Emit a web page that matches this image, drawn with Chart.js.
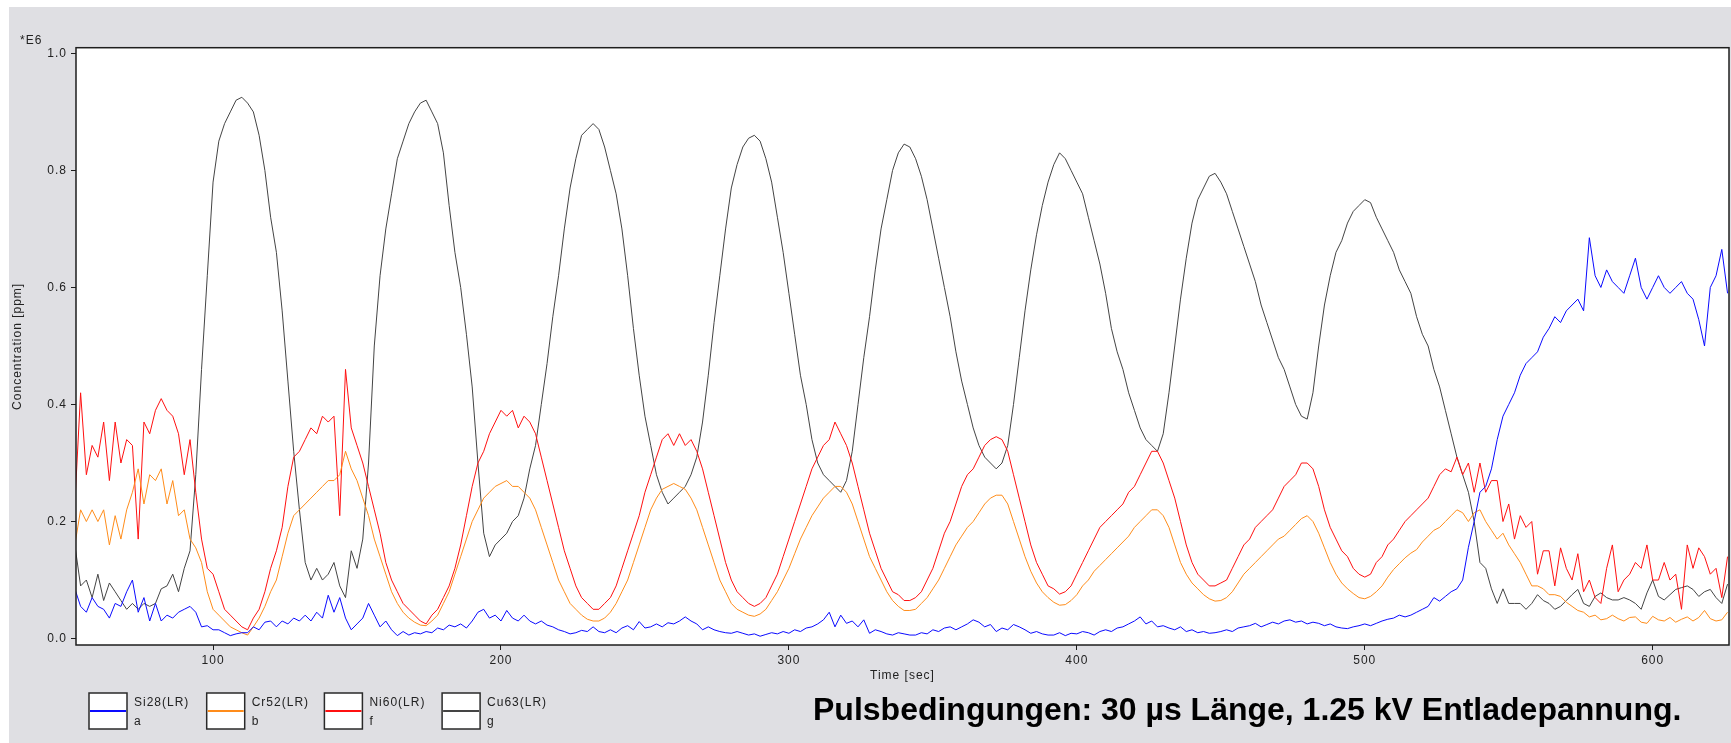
<!DOCTYPE html>
<html>
<head>
<meta charset="utf-8">
<title>GD-OES Tiefenprofil</title>
<script src="https://cdn.jsdelivr.net/npm/chart.js@4.4.1/dist/chart.umd.min.js"></script>
<style>
  html, body { margin: 0; padding: 0; background: #ffffff; }
  #wrap { position: relative; width: 1731px; height: 743px; }
</style>
</head>
<body>
<div id="wrap"><canvas id="depthProfile" width="1731" height="743"></canvas></div>
<script>
// sampling of the profile (sec)
const TIME_START = 52;
const TIME_STEP = 2;

// concentrations in units of 1E6 ppm, one value per sample
const SI28 = [
  0.085,0.055,0.045,0.07,0.055,0.05,0.035,0.06,0.055,0.08,
  0.1,0.045,0.07,0.03,0.06,0.03,0.04,0.035,0.045,0.05,
  0.055,0.045,0.02,0.022,0.015,0.015,0.01,0.005,0.008,0.01,
  0.01,0.02,0.015,0.028,0.03,0.02,0.03,0.025,0.035,0.03,
  0.04,0.03,0.045,0.035,0.074,0.045,0.07,0.035,0.015,0.025,
  0.035,0.06,0.04,0.02,0.03,0.015,0.005,0.012,0.006,0.01,
  0.008,0.012,0.01,0.018,0.015,0.023,0.02,0.025,0.018,0.03,
  0.045,0.05,0.035,0.04,0.03,0.048,0.035,0.03,0.04,0.03,
  0.025,0.03,0.023,0.02,0.015,0.012,0.008,0.01,0.014,0.012,
  0.02,0.012,0.01,0.015,0.01,0.018,0.022,0.015,0.029,0.018,
  0.02,0.025,0.02,0.027,0.025,0.03,0.037,0.03,0.025,0.015,
  0.02,0.015,0.012,0.01,0.009,0.012,0.009,0.006,0.008,0.004,
  0.007,0.01,0.008,0.012,0.009,0.015,0.012,0.018,0.02,0.025,
  0.032,0.045,0.02,0.04,0.026,0.03,0.02,0.032,0.009,0.015,
  0.012,0.008,0.006,0.01,0.008,0.006,0.006,0.01,0.008,0.015,
  0.012,0.018,0.02,0.015,0.02,0.025,0.032,0.028,0.02,0.024,
  0.012,0.018,0.015,0.024,0.02,0.015,0.009,0.012,0.008,0.006,
  0.006,0.01,0.005,0.009,0.008,0.012,0.01,0.006,0.012,0.015,
  0.012,0.018,0.02,0.025,0.03,0.037,0.025,0.03,0.02,0.022,
  0.018,0.015,0.02,0.012,0.015,0.01,0.012,0.009,0.01,0.012,
  0.015,0.012,0.018,0.02,0.022,0.026,0.02,0.024,0.028,0.025,
  0.03,0.032,0.028,0.03,0.025,0.028,0.026,0.022,0.025,0.02,
  0.018,0.017,0.02,0.022,0.025,0.022,0.026,0.03,0.033,0.035,
  0.04,0.037,0.04,0.045,0.05,0.055,0.07,0.064,0.072,0.08,
  0.085,0.1,0.156,0.2,0.25,0.26,0.29,0.34,0.38,0.4,
  0.42,0.45,0.47,0.48,0.49,0.515,0.53,0.55,0.54,0.56,
  0.57,0.58,0.56,0.685,0.62,0.6,0.63,0.61,0.6,0.59,
  0.62,0.65,0.6,0.58,0.6,0.62,0.6,0.59,0.6,0.61,
  0.59,0.58,0.545,0.5,0.6,0.62,0.665,0.59
];

const CR52 = [
  0.16,0.22,0.2,0.22,0.2,0.22,0.16,0.21,0.17,0.22,
  0.25,0.29,0.23,0.28,0.27,0.29,0.23,0.27,0.21,0.22,
  0.17,0.155,0.13,0.08,0.05,0.04,0.03,0.02,0.015,0.01,
  0.006,0.02,0.035,0.055,0.08,0.1,0.14,0.18,0.21,0.22,
  0.23,0.24,0.25,0.26,0.27,0.27,0.28,0.32,0.29,0.27,
  0.24,0.21,0.17,0.14,0.11,0.08,0.06,0.045,0.035,0.028,
  0.023,0.022,0.03,0.04,0.06,0.08,0.11,0.14,0.17,0.2,
  0.22,0.24,0.25,0.26,0.265,0.27,0.26,0.26,0.25,0.24,
  0.22,0.19,0.16,0.13,0.1,0.08,0.06,0.05,0.04,0.033,
  0.03,0.03,0.035,0.045,0.06,0.08,0.1,0.13,0.16,0.19,
  0.22,0.24,0.255,0.26,0.265,0.26,0.255,0.24,0.22,0.19,
  0.16,0.13,0.1,0.08,0.06,0.05,0.045,0.04,0.038,0.042,
  0.05,0.065,0.08,0.1,0.12,0.145,0.17,0.19,0.21,0.225,
  0.24,0.25,0.26,0.26,0.25,0.23,0.2,0.17,0.14,0.12,
  0.1,0.08,0.065,0.055,0.048,0.048,0.05,0.06,0.07,0.085,
  0.1,0.12,0.14,0.16,0.175,0.19,0.2,0.215,0.23,0.24,
  0.245,0.245,0.23,0.2,0.17,0.14,0.115,0.095,0.08,0.07,
  0.062,0.057,0.058,0.065,0.075,0.09,0.1,0.115,0.125,0.135,
  0.145,0.155,0.165,0.175,0.19,0.2,0.21,0.22,0.22,0.21,
  0.19,0.16,0.13,0.11,0.095,0.085,0.075,0.068,0.064,0.065,
  0.07,0.08,0.095,0.11,0.12,0.13,0.14,0.15,0.16,0.17,
  0.175,0.185,0.195,0.205,0.21,0.2,0.18,0.155,0.13,0.11,
  0.095,0.085,0.077,0.07,0.068,0.072,0.08,0.09,0.105,0.118,
  0.128,0.138,0.146,0.152,0.165,0.175,0.185,0.19,0.2,0.21,
  0.22,0.215,0.2,0.215,0.22,0.2,0.185,0.17,0.18,0.16,
  0.145,0.13,0.11,0.09,0.09,0.085,0.075,0.075,0.072,0.062,
  0.055,0.048,0.045,0.037,0.04,0.032,0.034,0.04,0.034,0.03,
  0.036,0.037,0.028,0.026,0.038,0.032,0.03,0.036,0.028,0.033,
  0.037,0.03,0.036,0.048,0.034,0.03,0.032,0.045
];

const NI60 = [
  0.23,0.42,0.28,0.33,0.31,0.37,0.27,0.37,0.3,0.34,
  0.33,0.17,0.37,0.35,0.39,0.41,0.39,0.38,0.35,0.28,
  0.34,0.25,0.17,0.12,0.11,0.08,0.05,0.04,0.03,0.02,
  0.015,0.035,0.05,0.08,0.12,0.15,0.19,0.26,0.31,0.32,
  0.34,0.36,0.35,0.38,0.37,0.38,0.21,0.46,0.36,0.33,
  0.3,0.26,0.22,0.18,0.13,0.1,0.08,0.06,0.05,0.04,
  0.03,0.025,0.04,0.05,0.07,0.09,0.12,0.16,0.21,0.26,
  0.3,0.32,0.35,0.37,0.39,0.38,0.39,0.36,0.38,0.37,
  0.35,0.31,0.27,0.23,0.19,0.15,0.12,0.09,0.07,0.06,
  0.05,0.05,0.06,0.07,0.09,0.12,0.15,0.18,0.21,0.25,
  0.28,0.31,0.34,0.35,0.33,0.35,0.33,0.34,0.32,0.29,
  0.25,0.21,0.17,0.13,0.1,0.08,0.07,0.06,0.055,0.06,
  0.07,0.09,0.11,0.14,0.17,0.2,0.23,0.26,0.29,0.31,
  0.33,0.34,0.37,0.35,0.33,0.3,0.26,0.22,0.18,0.15,
  0.12,0.1,0.08,0.075,0.065,0.065,0.07,0.08,0.1,0.12,
  0.15,0.18,0.2,0.23,0.26,0.28,0.29,0.31,0.33,0.34,
  0.345,0.34,0.32,0.28,0.24,0.2,0.16,0.13,0.11,0.09,
  0.085,0.076,0.08,0.09,0.11,0.13,0.15,0.17,0.19,0.2,
  0.21,0.22,0.23,0.25,0.26,0.28,0.3,0.32,0.32,0.3,
  0.27,0.24,0.2,0.16,0.13,0.11,0.1,0.09,0.09,0.095,
  0.1,0.12,0.14,0.16,0.17,0.19,0.2,0.21,0.22,0.24,
  0.26,0.27,0.28,0.3,0.3,0.29,0.26,0.22,0.19,0.17,
  0.15,0.14,0.12,0.11,0.105,0.11,0.13,0.14,0.16,0.17,
  0.185,0.2,0.21,0.22,0.23,0.24,0.26,0.28,0.29,0.285,
  0.31,0.28,0.3,0.25,0.3,0.25,0.27,0.27,0.2,0.23,
  0.17,0.21,0.19,0.2,0.11,0.15,0.15,0.09,0.155,0.12,
  0.1,0.145,0.08,0.1,0.07,0.06,0.12,0.16,0.08,0.1,
  0.11,0.13,0.12,0.16,0.1,0.1,0.13,0.1,0.11,0.05,
  0.16,0.12,0.155,0.14,0.11,0.12,0.07,0.14
];

const CU63 = [
  0.16,0.09,0.1,0.07,0.11,0.065,0.095,0.08,0.065,0.05,
  0.06,0.05,0.06,0.055,0.06,0.085,0.09,0.11,0.08,0.12,
  0.15,0.28,0.46,0.62,0.78,0.85,0.88,0.9,0.92,0.925,
  0.915,0.9,0.86,0.8,0.72,0.66,0.56,0.44,0.32,0.22,
  0.13,0.1,0.12,0.1,0.11,0.13,0.09,0.07,0.15,0.12,
  0.17,0.3,0.5,0.62,0.7,0.76,0.82,0.85,0.88,0.9,
  0.915,0.92,0.9,0.88,0.83,0.74,0.66,0.6,0.52,0.43,
  0.3,0.18,0.14,0.16,0.17,0.18,0.2,0.21,0.24,0.29,
  0.33,0.4,0.47,0.55,0.62,0.7,0.77,0.82,0.86,0.87,
  0.88,0.87,0.84,0.8,0.76,0.7,0.62,0.53,0.45,0.38,
  0.33,0.28,0.25,0.23,0.24,0.25,0.26,0.28,0.31,0.37,
  0.45,0.54,0.62,0.7,0.77,0.81,0.84,0.855,0.86,0.85,
  0.82,0.78,0.72,0.66,0.59,0.52,0.45,0.4,0.34,0.3,
  0.28,0.27,0.26,0.25,0.27,0.32,0.4,0.48,0.55,0.63,
  0.7,0.75,0.8,0.83,0.845,0.84,0.82,0.79,0.75,0.7,
  0.65,0.6,0.55,0.49,0.44,0.4,0.36,0.33,0.31,0.3,
  0.29,0.3,0.33,0.4,0.48,0.56,0.63,0.69,0.74,0.78,
  0.81,0.83,0.82,0.8,0.78,0.76,0.72,0.68,0.64,0.59,
  0.53,0.49,0.46,0.42,0.39,0.36,0.34,0.33,0.32,0.35,
  0.42,0.5,0.58,0.65,0.71,0.75,0.77,0.79,0.795,0.78,
  0.76,0.73,0.7,0.67,0.64,0.61,0.57,0.54,0.51,0.48,
  0.46,0.43,0.4,0.38,0.375,0.42,0.5,0.57,0.62,0.66,
  0.68,0.71,0.73,0.74,0.75,0.745,0.72,0.7,0.68,0.66,
  0.63,0.61,0.59,0.55,0.52,0.5,0.46,0.43,0.39,0.35,
  0.31,0.28,0.25,0.2,0.13,0.12,0.085,0.06,0.085,0.06,
  0.06,0.06,0.05,0.06,0.075,0.065,0.06,0.05,0.055,0.065,
  0.075,0.084,0.06,0.055,0.072,0.078,0.07,0.066,0.066,0.07,
  0.066,0.06,0.05,0.078,0.1,0.072,0.066,0.075,0.084,0.087,
  0.09,0.084,0.072,0.08,0.084,0.07,0.06,0.093
];

const SERIES_LABELS = ['Si28(LR)', 'Cr52(LR)', 'Ni60(LR)', 'Cu63(LR)'];
const SERIES_TAGS = ['a', 'b', 'f', 'g'];
const SERIES_COLORS = ['#0a0aff', '#ff8c1a', '#ff1010', '#444444'];

const X_TICKS = [100, 200, 300, 400, 500, 600];
const Y_TICKS = [0, 0.2, 0.4, 0.6, 0.8, 1.0];
const X_RANGE = [52.4, 626.5];
const Y_RANGE = [-0.011, 1.0097];

const CAPTION = 'Pulsbedingungen: 30 \u00b5s L\u00e4nge, 1.25 kV Entladepannung.';

const time = SI28.map((_, i) => TIME_START + i * TIME_STEP);
const toPoints = vals => vals.map((v, i) => ({ x: time[i], y: v }));

const PANEL_BG = '#dfdfe3';
const INK = '#1e1e1e';
const FONT = '"Liberation Sans", Arial, sans-serif';

Chart.defaults.font.family = FONT;
Chart.defaults.color = '#222';

// grey instrument panel behind everything, white plot window;
// the small instrument lettering is spaced a little wider than plain Arial
const panelBackdrop = {
  id: 'panelBackdrop',
  beforeDraw(chart) {
    const { ctx, width, height, chartArea: a } = chart;
    ctx.save();
    ctx.fillStyle = '#ffffff';
    ctx.fillRect(0, 0, width, height);
    ctx.fillStyle = PANEL_BG;
    ctx.fillRect(9, 7, width - 9, height - 7);
    ctx.fillStyle = '#ffffff';
    ctx.fillRect(a.left, a.top, a.right - a.left, a.bottom - a.top);
    ctx.restore();
    ctx.letterSpacing = '1px';
  }
};

// frame, exponent marker, boxed legend and the caption line
const panelDecor = {
  id: 'panelDecor',
  afterDraw(chart) {
    const { ctx, chartArea: a } = chart;
    ctx.save();

    ctx.strokeStyle = INK;
    ctx.lineWidth = 1.5;
    ctx.strokeRect(a.left, a.top, a.right - a.left, a.bottom - a.top);

    ctx.fillStyle = '#222';
    ctx.font = '12px ' + FONT;
    ctx.textAlign = 'left';
    ctx.textBaseline = 'middle';
    ctx.fillText('*E6', 20, 41);

    const boxW = 38, boxH = 36, step = 117.7, left = 89, top = 693;
    chart.data.datasets.forEach((ds, i) => {
      const x = left + i * step;
      ctx.fillStyle = '#ffffff';
      ctx.fillRect(x, top, boxW, boxH);
      ctx.strokeStyle = '#2a2a2a';
      ctx.lineWidth = 1.5;
      ctx.strokeRect(x, top, boxW, boxH);
      ctx.strokeStyle = ds.borderColor;
      ctx.lineWidth = 2;
      ctx.beginPath();
      ctx.moveTo(x + 1, top + boxH / 2);
      ctx.lineTo(x + boxW - 1, top + boxH / 2);
      ctx.stroke();
      ctx.fillStyle = '#222';
      ctx.font = '12px ' + FONT;
      ctx.fillText(ds.label, x + boxW + 7, top + 10);
      ctx.fillText(SERIES_TAGS[i], x + boxW + 7, top + 29);
    });

    ctx.letterSpacing = '0px';
    ctx.fillStyle = '#000';
    ctx.font = 'bold 32px ' + FONT;
    ctx.textBaseline = 'alphabetic';
    ctx.fillText(CAPTION, 813, 720);
    ctx.restore();
  }
};

const seriesValues = [SI28, CR52, NI60, CU63];

new Chart(document.getElementById('depthProfile'), {
  type: 'line',
  data: {
    datasets: seriesValues.map((vals, i) => ({
      label: SERIES_LABELS[i],
      data: toPoints(vals),
      borderColor: SERIES_COLORS[i],
      borderWidth: 1,
      pointRadius: 0,
      tension: 0,
      fill: false
    }))
  },
  options: {
    responsive: false,
    animation: false,
    devicePixelRatio: 1,
    layout: { padding: { left: 9, right: 2, top: 47.7, bottom: 59.7 } },
    plugins: { legend: { display: false }, tooltip: { enabled: false } },
    scales: {
      x: {
        type: 'linear',
        min: X_RANGE[0],
        max: X_RANGE[1],
        afterBuildTicks: s => { s.ticks = X_TICKS.map(v => ({ value: v })); },
        afterFit: s => { s.height = 38.3; },
        border: { display: false },
        grid: { drawOnChartArea: false, drawTicks: true, tickLength: 5, color: INK },
        ticks: { font: { size: 12 }, color: '#222', padding: 3, maxRotation: 0, callback: v => String(v) },
        title: { display: true, text: 'Time [sec]', font: { size: 12 }, color: '#222', padding: 0 }
      },
      y: {
        type: 'linear',
        min: Y_RANGE[0],
        max: Y_RANGE[1],
        afterBuildTicks: s => { s.ticks = Y_TICKS.map(v => ({ value: v })); },
        afterFit: s => { s.width = 67; },
        border: { display: false },
        grid: { drawOnChartArea: false, drawTicks: true, tickLength: 5, color: INK },
        ticks: { font: { size: 12 }, color: '#222', padding: 4, callback: v => v.toFixed(1) },
        title: { display: true, text: 'Concentration [ppm]', font: { size: 12 }, color: '#222', padding: { top: 1, bottom: 0 } }
      }
    }
  },
  plugins: [panelBackdrop, panelDecor]
});
</script>
</body>
</html>
